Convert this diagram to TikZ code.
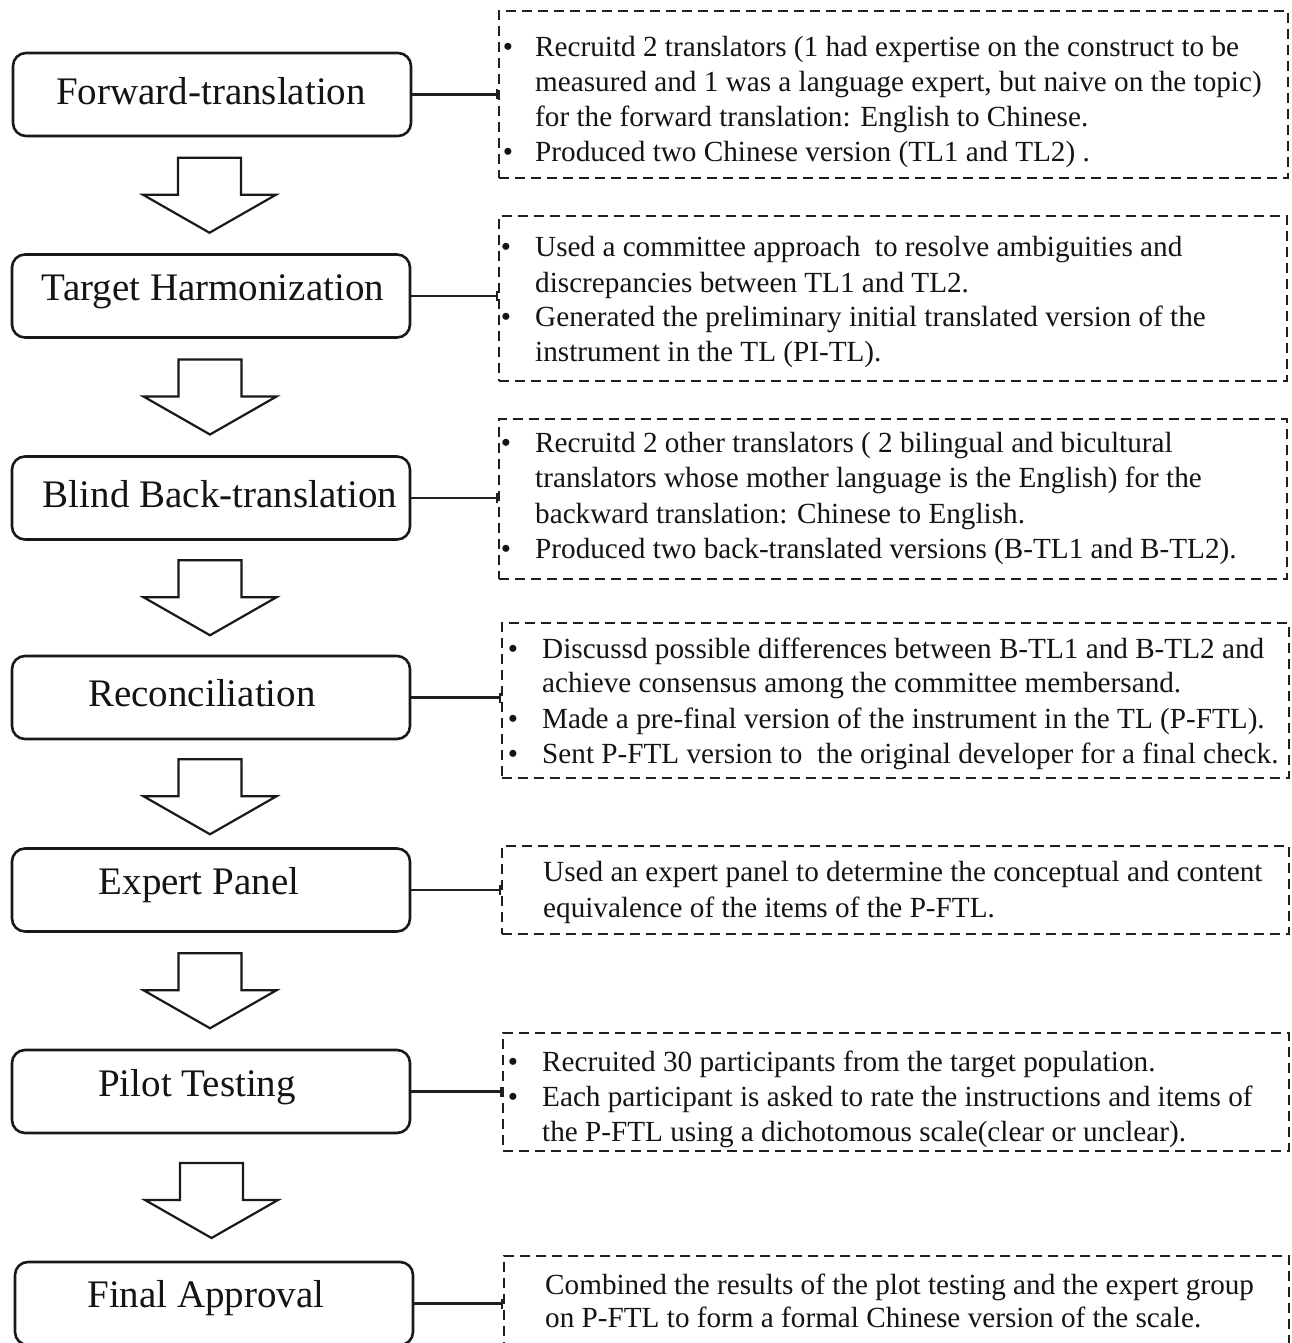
\documentclass[tikz,border=0pt]{standalone}
\usepackage{fontspec}
\setmainfont{Liberation Serif}
\usetikzlibrary{calc,arrows.meta}
\tikzset{
  stepbox/.style={draw=black!90, line width=2.6pt, rounded corners=13pt, minimum width=398pt, minimum height=83pt, inner sep=0pt},
  steplabel/.style={inner sep=0pt, font=\fontsize{39}{41}\selectfont, text=black!92},
  notebox/.style={draw=black!88, line width=2.2pt, dash pattern=on 10pt off 6pt, anchor=north west, inner sep=0pt},
  notetext/.style={anchor=base west, inner sep=0pt, font=\fontsize{29.2}{34}\selectfont, text=black!92},
  bul/.style={anchor=base, inner sep=0pt, font=\fontsize{29.2}{34}\selectfont, text=black!92},
  link/.style={draw=black!88, line width=2.2pt, -{Bar[width=10pt,line width=2.2pt]}},
  pics/blockarrow/.style={code={
    \draw[draw=black!90, line width=2.2pt, line join=miter]
      (-31.5,-37.5) -- (31.5,-37.5) -- (31.5,-0.5) -- (66.5,-0.5) -- (0,37.5)
      -- (-66.5,-0.5) -- (-31.5,-0.5) -- cycle;}}
}
\begin{document}
\begin{tikzpicture}[x=1pt,y=-1pt]
\useasboundingbox (0,0) rectangle (1292,1343);
\clip (0,0) rectangle (1292,1343);
\fill[white] (0,0) rectangle (1292,1343);

% step boxes
\node[stepbox] (b1) at (212,94.5) {};
\node[stepbox] (b2) at (211,296) {};
\node[stepbox] (b3) at (211,498) {};
\node[stepbox] (b4) at (211,697.5) {};
\node[stepbox] (b5) at (211,890) {};
\node[stepbox] (b6) at (211,1091.5) {};
\node[stepbox] (b7) at (214,1303.5) {};

\node[steplabel] (l1) at (211,91) {Forward-translation};
\node[steplabel] (l2) at (213,292) {Target Harmonization};
\node[steplabel] (l3) at (220,494) {Blind Back-translation};
\node[steplabel] (l4) at (202,693) {Reconciliation};
\node[steplabel] (l5) at (199,885) {Expert Panel};
\node[steplabel] (l6) at (197,1087) {Pilot Testing};
\node[steplabel] (l7) at (206,1298) {Final Approval};

% block arrows between steps
\pic at ($(b1.south)!0.5!(b2.north)+(-2,0)$) {blockarrow};
\pic at ($(b2.south)!0.5!(b3.north)+(-1,0)$) {blockarrow};
\pic at ($(b3.south)!0.5!(b4.north)+(-1,0)$) {blockarrow};
\pic at ($(b4.south)!0.5!(b5.north)+(-1,3)$) {blockarrow};
\pic at ($(b5.south)!0.5!(b6.north)+(-1,0)$) {blockarrow};
\pic at ($(b6.south)!0.5!(b7.north)+(-1,3)$) {blockarrow};

% dashed note boxes
\node[notebox, minimum width=789pt, minimum height=167pt] (d1) at (498,10) {};
\node[notebox, minimum width=788pt, minimum height=165pt] (d2) at (498,215) {};
\node[notebox, minimum width=788pt, minimum height=160pt] (d3) at (498,418) {};
\node[notebox, minimum width=787pt, minimum height=155pt] (d4) at (501,622) {};
\node[notebox, minimum width=787pt, minimum height=88pt] (d5) at (501,845) {};
\node[notebox, minimum width=786pt, minimum height=118pt] (d6) at (502,1032) {};
\node[notebox, minimum width=785pt, minimum height=120pt] (d7) at (503,1255) {};

% connectors
\draw[link] (b1.east) -- (d1.west |- b1.east);
\draw[link] (b2.east) -- (d2.west |- b2.east);
\draw[link] (b3.east) -- (d3.west |- b3.east);
\draw[link] (b4.east) -- (d4.west |- b4.east);
\draw[link] (b5.east) -- (d5.west |- b5.east);
\draw[link] (b6.east) -- (d6.west |- b6.east);
\draw[link] (b7.east) -- (d7.west |- b7.east);

% texts box 1
\node[bul] (p1a) at (508,56.5) {•};
\node[notetext] (t1a) at (535,56.5) {Recruitd 2 translators (1 had expertise on the construct to be};
\node[notetext] (t1b) at (535,91.5) {measured and 1 was a language expert, but naive on the topic)};
\node[notetext] (t1c) at (535,126.5) {for the forward translation: English to Chinese.};
\node[bul] (p1d) at (508,161.5) {•};
\node[notetext] (t1d) at (535,161.5) {Produced two Chinese version (TL1 and TL2) .};

% texts box 2
\node[bul] (p2a) at (506,256.5) {•};
\node[notetext] (t2a) at (535,256.5) {Used a committee approach~ to resolve ambiguities and};
\node[notetext] (t2b) at (535,292.5) {discrepancies between TL1 and TL2.};
\node[bul] (p2c) at (506,326.5) {•};
\node[notetext] (t2c) at (535,326.5) {Generated the preliminary initial translated version of the};
\node[notetext] (t2d) at (535,361.5) {instrument in the TL (PI-TL).};

% texts box 3
\node[bul] (p3a) at (506,452.5) {•};
\node[notetext] (t3a) at (535,452.5) {Recruitd 2 other translators ( 2 bilingual and bicultural};
\node[notetext] (t3b) at (535,487.5) {translators whose mother language is the English) for the};
\node[notetext] (t3c) at (535,523.5) {backward translation: Chinese to English.};
\node[bul] (p3d) at (506,558.5) {•};
\node[notetext] (t3d) at (535,558.5) {Produced two back-translated versions (B-TL1 and B-TL2).};

% texts box 4
\node[bul] (p4a) at (513,658.5) {•};
\node[notetext] (t4a) at (542,658.5) {Discussd possible differences between B-TL1 and B-TL2 and};
\node[notetext] (t4b) at (542,692.5) {achieve consensus among the committee membersand.};
\node[bul] (p4c) at (513,728) {•};
\node[notetext] (t4c) at (542,728) {Made a pre-final version of the instrument in the TL (P-FTL).};
\node[bul] (p4d) at (513,763) {•};
\node[notetext] (t4d) at (542,763) {Sent P-FTL version to~ the original developer for a final check.};

% texts box 5
\node[notetext] (t5a) at (543,881.5) {Used an expert panel to determine the conceptual and content};
\node[notetext] (t5b) at (543,917.5) {equivalence of the items of the P-FTL.};

% texts box 6
\node[bul] (p6a) at (513,1071.5) {•};
\node[notetext] (t6a) at (542,1071.5) {Recruited 30 participants from the target population.};
\node[bul] (p6b) at (513,1106.5) {•};
\node[notetext] (t6b) at (542,1106.5) {Each participant is asked to rate the instructions and items of};
\node[notetext] (t6c) at (542,1141.5) {the P-FTL using a dichotomous scale(clear or unclear).};

% texts box 7
\node[notetext] (t7a) at (545,1294.5) {Combined the results of the plot testing and the expert group};
\node[notetext] (t7b) at (545,1327.5) {on P-FTL to form a formal Chinese version of the scale.};
\end{tikzpicture}
\end{document}
